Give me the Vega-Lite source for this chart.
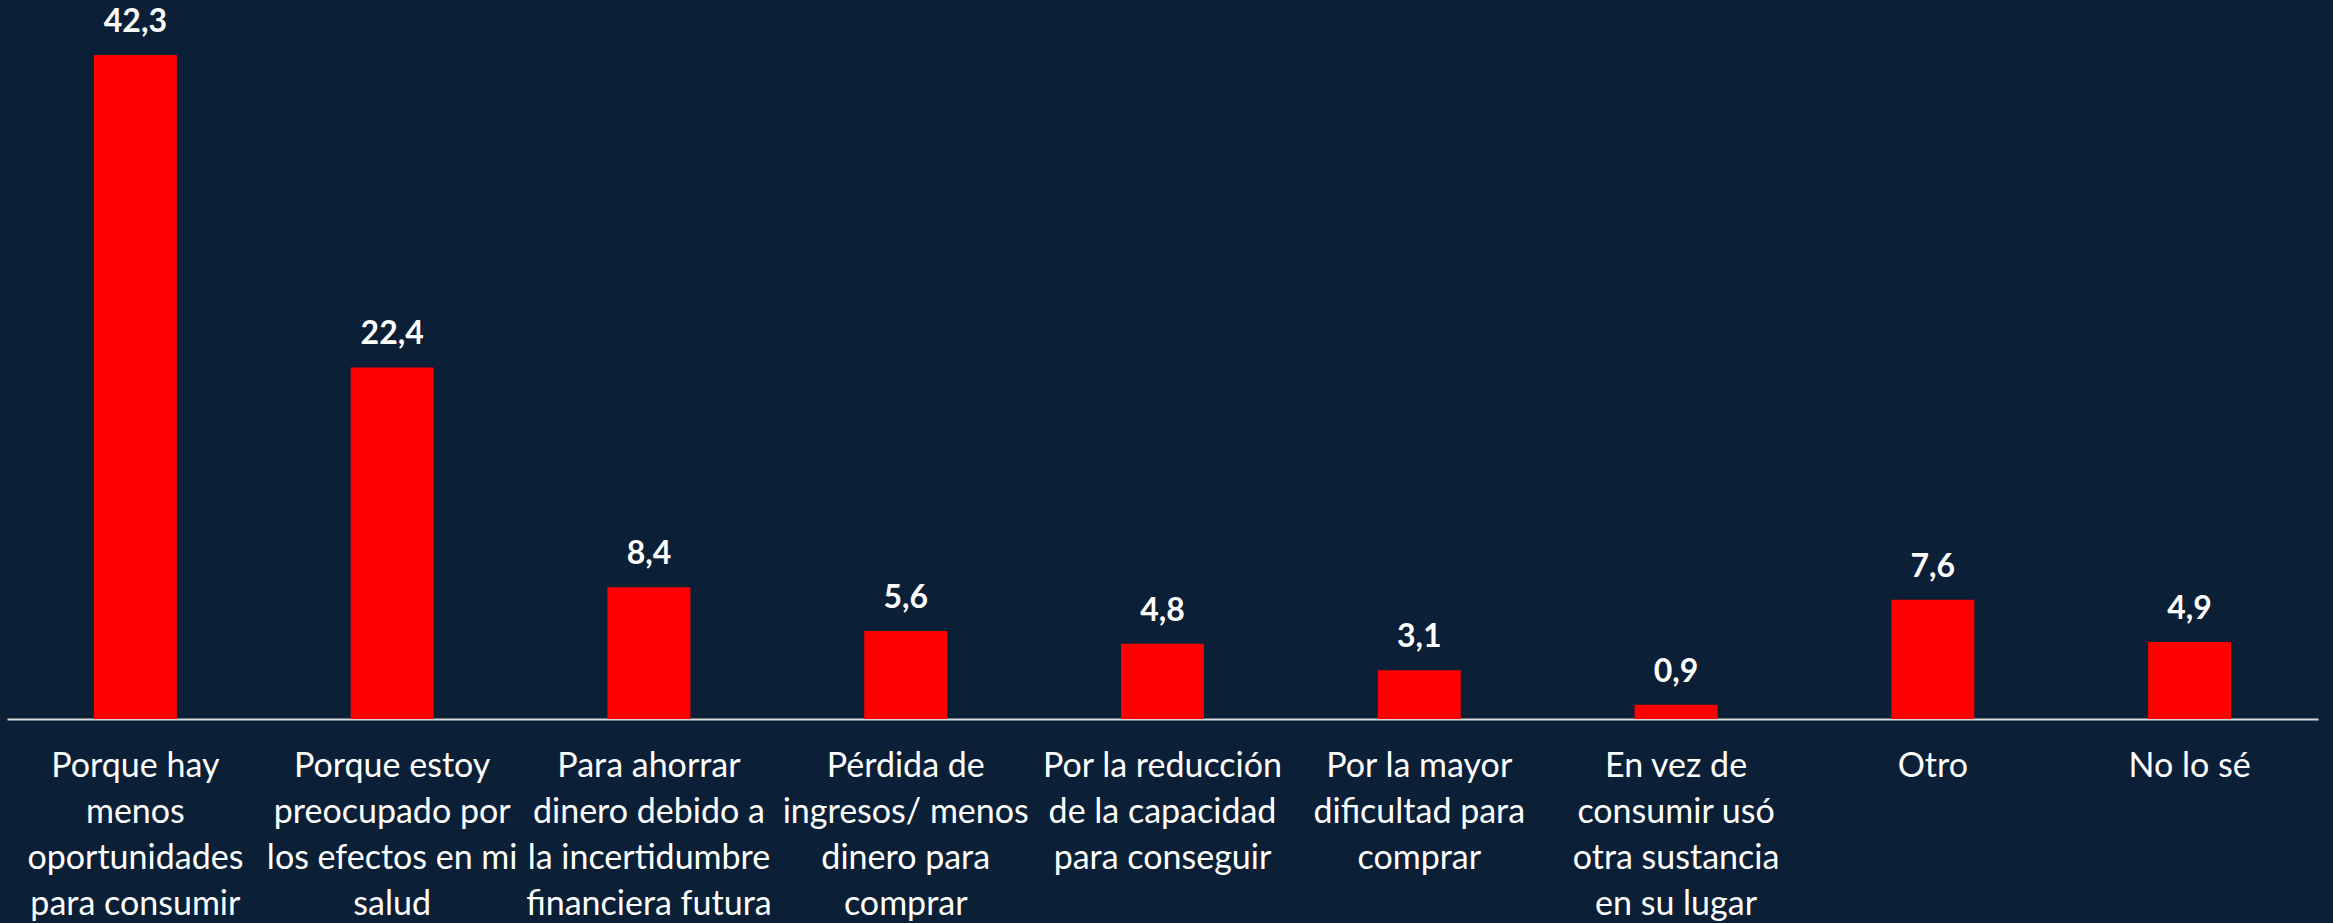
{
  "$schema": "https://vega.github.io/schema/vega-lite/v6.json",
  "autosize": {"type": "none"},
  "width": 2311,
  "height": 664,
  "padding": {"left": 7, "top": 55, "right": 15, "bottom": 204},
  "background": "#0b2036",
  "config": {
    "view": {"stroke": null},
    "locale": {"number": {"decimal": ",", "thousands": ".", "grouping": [3], "currency": ["", " €"]}}
  },
  "data": {
    "values": [
      {"cat": "Porque hay|menos|oportunidades|para consumir", "v": 42.3},
      {"cat": "Porque estoy|preocupado por|los efectos en mi|salud", "v": 22.4},
      {"cat": "Para ahorrar|dinero debido a|la incertidumbre|financiera futura", "v": 8.4},
      {"cat": "Pérdida de|ingresos/ menos|dinero para|comprar", "v": 5.6},
      {"cat": "Por la reducción|de la capacidad|para conseguir", "v": 4.8},
      {"cat": "Por la mayor|dificultad para|comprar", "v": 3.1},
      {"cat": "En vez de|consumir usó|otra sustancia|en su lugar", "v": 0.9},
      {"cat": "Otro", "v": 7.6},
      {"cat": "No lo sé", "v": 4.9}
    ]
  },
  "encoding": {
    "x": {
      "field": "cat",
      "type": "nominal",
      "sort": null,
      "scale": {"paddingInner": 0.677, "paddingOuter": 0.3385},
      "axis": {
        "title": null,
        "labelAngle": 0,
        "labelExpr": "split(datum.label, '|')",
        "labelFont": "Lato",
        "labelFontSize": 34,
        "labelColor": "#ffffff",
        "labelLineHeight": 46,
        "labelBaseline": "top",
        "labelPadding": 30,
        "labelLimit": 0,
        "ticks": false,
        "domainColor": "#d9d9d9",
        "domainWidth": 2
      }
    },
    "y": {
      "field": "v",
      "type": "quantitative",
      "scale": {"domain": [0, 42.3], "nice": false},
      "axis": null
    }
  },
  "layer": [
    {"mark": {"type": "bar", "color": "#ff0000"}},
    {
      "mark": {"type": "text", "baseline": "bottom", "dy": -16, "font": "Lato", "fontSize": 32, "fontWeight": "bold", "color": "#ffffff"},
      "encoding": {"text": {"field": "v", "type": "quantitative", "format": ".1f"}}
    }
  ]
}
